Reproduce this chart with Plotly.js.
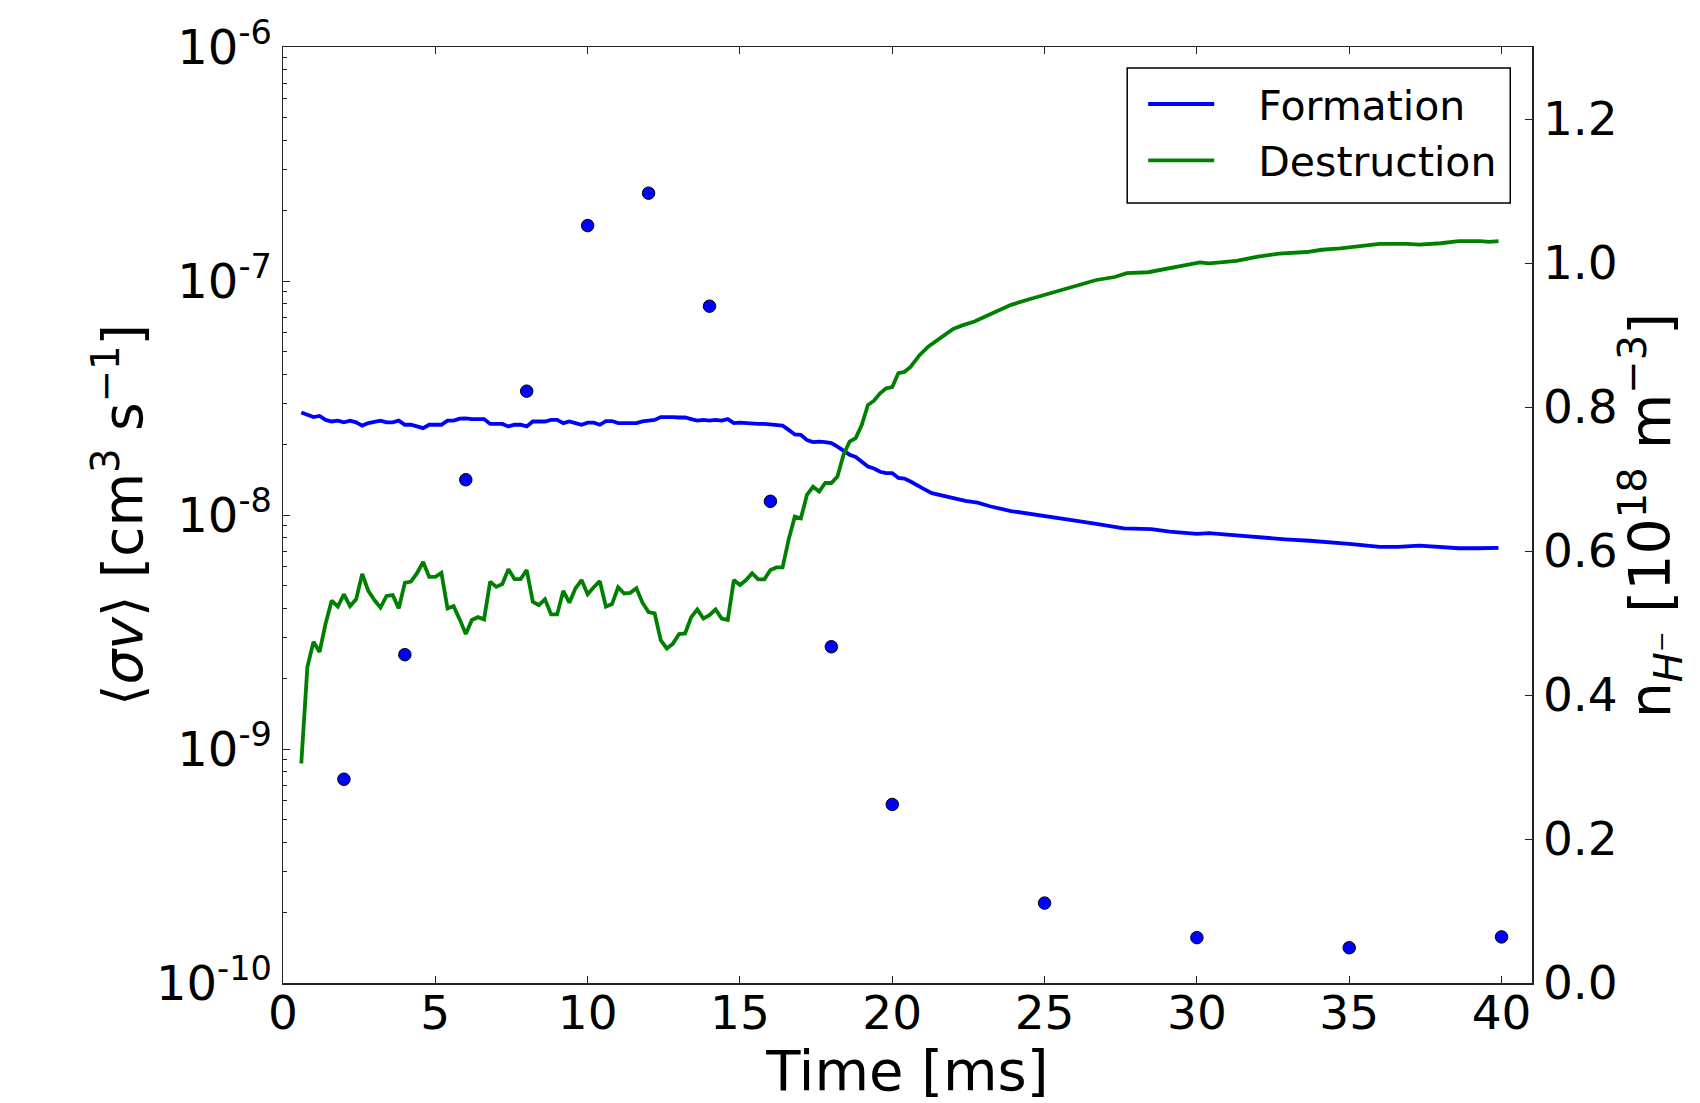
<!DOCTYPE html>
<html>
<head>
<meta charset="utf-8">
<script src="https://cdn.plot.ly/plotly-3.0.1.min.js"></script>
<style>html,body{margin:0;padding:0;background:#fff;}#chart{width:1700px;height:1103px;}</style>
</head>
<body>
<div id="chart"></div>
<script>
// Formation rate <σv> [cm^3 s^-1] vs time [ms]
const formationTime = [0.6,0.8,1.0,1.2,1.4,1.6,1.8,2.0,2.2,2.4,2.6,2.8,3.0,3.2,3.4,3.6,3.8,4.0,4.2,4.4,4.6,4.8,5.0,5.2,5.4,5.6,5.8,6.0,6.2,6.4,6.6,6.8,7.0,7.2,7.4,7.6,7.8,8.0,8.2,8.4,8.6,8.8,9.0,9.2,9.4,9.6,9.8,10.0,10.2,10.4,10.6,10.8,11.0,11.2,11.4,11.6,11.8,12.0,12.2,12.4,12.6,12.8,13.0,13.2,13.4,13.6,13.8,14.0,14.2,14.4,14.6,14.8,15.0,15.2,15.4,15.6,15.8,16.0,16.2,16.4,16.6,16.8,17.0,17.2,17.4,17.6,17.8,18.0,18.2,18.4,18.6,18.8,19.0,19.2,19.4,19.6,19.8,20.0,20.2,20.4,20.6,20.8,21.0,21.3,21.9,22.4,22.8,23.2,23.9,24.6,25.5,26.0,26.7,27.6,28.5,29.1,30.0,30.4,31.2,31.9,32.9,33.7,34.2,35.0,36.0,36.6,37.3,38.0,38.6,39.2,39.9];
const formationRate = [2.74e-8,2.68e-8,2.62e-8,2.65e-8,2.55e-8,2.51e-8,2.53e-8,2.49e-8,2.53e-8,2.49e-8,2.41e-8,2.47e-8,2.51e-8,2.53e-8,2.49e-8,2.49e-8,2.53e-8,2.43e-8,2.43e-8,2.39e-8,2.35e-8,2.43e-8,2.43e-8,2.43e-8,2.53e-8,2.53e-8,2.58e-8,2.59e-8,2.57e-8,2.57e-8,2.57e-8,2.45e-8,2.45e-8,2.45e-8,2.39e-8,2.43e-8,2.43e-8,2.39e-8,2.51e-8,2.51e-8,2.51e-8,2.55e-8,2.55e-8,2.47e-8,2.51e-8,2.47e-8,2.43e-8,2.48e-8,2.48e-8,2.43e-8,2.52e-8,2.52e-8,2.47e-8,2.47e-8,2.47e-8,2.47e-8,2.51e-8,2.53e-8,2.55e-8,2.62e-8,2.63e-8,2.62e-8,2.61e-8,2.61e-8,2.57e-8,2.53e-8,2.55e-8,2.53e-8,2.55e-8,2.53e-8,2.57e-8,2.47e-8,2.48e-8,2.47e-8,2.44e-8,2.45e-8,2.45e-8,2.44e-8,2.43e-8,2.41e-8,2.31e-8,2.21e-8,2.20e-8,2.09e-8,2.05e-8,2.06e-8,2.05e-8,2.03e-8,1.96e-8,1.88e-8,1.81e-8,1.77e-8,1.69e-8,1.61e-8,1.58e-8,1.53e-8,1.51e-8,1.51e-8,1.44e-8,1.43e-8,1.39e-8,1.34e-8,1.30e-8,1.24e-8,1.19e-8,1.15e-8,1.13e-8,1.09e-8,1.04e-8,1.01e-8,9.68e-9,9.46e-9,9.16e-9,8.77e-9,8.71e-9,8.49e-9,8.30e-9,8.36e-9,8.20e-9,8.04e-9,7.87e-9,7.76e-9,7.69e-9,7.52e-9,7.31e-9,7.31e-9,7.40e-9,7.31e-9,7.21e-9,7.21e-9,7.24e-9];

// Destruction rate <σv> [cm^3 s^-1] vs time [ms]
const destructionTime = [0.6,0.8,1.0,1.2,1.4,1.6,1.8,2.0,2.2,2.4,2.6,2.8,3.0,3.2,3.4,3.6,3.8,4.0,4.2,4.4,4.6,4.8,5.0,5.2,5.4,5.6,5.8,6.0,6.2,6.4,6.6,6.8,7.0,7.2,7.4,7.6,7.8,8.0,8.2,8.4,8.6,8.8,9.0,9.2,9.4,9.6,9.8,10.0,10.2,10.4,10.6,10.8,11.0,11.2,11.4,11.6,11.8,12.0,12.2,12.4,12.6,12.8,13.0,13.2,13.4,13.6,13.8,14.0,14.2,14.4,14.6,14.8,15.0,15.2,15.4,15.6,15.8,16.0,16.2,16.4,16.6,16.8,17.0,17.2,17.4,17.6,17.8,18.0,18.2,18.4,18.6,18.8,19.0,19.2,19.4,19.6,19.8,20.0,20.2,20.4,20.6,20.9,21.2,21.5,21.7,22.0,22.3,22.7,23.0,23.4,23.9,24.5,25.1,25.6,26.3,26.7,27.3,27.7,28.4,28.9,29.4,29.8,30.1,30.4,31.3,32.0,32.7,33.6,34.1,34.7,35.3,36.0,36.9,37.3,38.0,38.6,39.3,39.6,39.9];
const destructionRate = [8.67e-10,2.24e-9,2.87e-9,2.60e-9,3.44e-9,4.31e-9,4.06e-9,4.58e-9,4.08e-9,4.36e-9,5.60e-9,4.74e-9,4.33e-9,4.02e-9,4.51e-9,4.55e-9,3.99e-9,5.13e-9,5.19e-9,5.64e-9,6.30e-9,5.44e-9,5.44e-9,5.66e-9,3.99e-9,4.08e-9,3.58e-9,3.10e-9,3.56e-9,3.66e-9,3.58e-9,5.19e-9,4.93e-9,5.07e-9,5.87e-9,5.32e-9,5.32e-9,5.82e-9,4.26e-9,4.12e-9,4.36e-9,3.76e-9,3.76e-9,4.74e-9,4.22e-9,4.86e-9,5.27e-9,4.59e-9,4.91e-9,5.22e-9,4.06e-9,4.16e-9,4.91e-9,4.62e-9,4.65e-9,4.86e-9,4.22e-9,3.85e-9,3.80e-9,2.92e-9,2.69e-9,2.82e-9,3.10e-9,3.12e-9,3.66e-9,3.95e-9,3.61e-9,3.73e-9,3.95e-9,3.61e-9,3.56e-9,5.27e-9,5.02e-9,5.27e-9,5.64e-9,5.31e-9,5.31e-9,5.82e-9,5.97e-9,5.97e-9,7.87e-9,9.84e-9,9.68e-9,1.22e-8,1.32e-8,1.26e-8,1.37e-8,1.37e-8,1.46e-8,1.81e-8,2.06e-8,2.13e-8,2.43e-8,2.95e-8,3.08e-8,3.31e-8,3.48e-8,3.52e-8,4.04e-8,4.09e-8,4.29e-8,4.83e-8,5.27e-8,5.62e-8,5.86e-8,6.24e-8,6.46e-8,6.71e-8,7.00e-8,7.40e-8,7.91e-8,8.36e-8,8.81e-8,9.23e-8,9.79e-8,1.01e-7,1.04e-7,1.08e-7,1.09e-7,1.12e-7,1.15e-7,1.18e-7,1.20e-7,1.19e-7,1.22e-7,1.27e-7,1.31e-7,1.33e-7,1.36e-7,1.38e-7,1.41e-7,1.44e-7,1.44e-7,1.43e-7,1.45e-7,1.48e-7,1.48e-7,1.47e-7,1.48e-7];

// H- density [10^18 m^-3] (right axis) vs time [ms]
const densityTime = [2,4,6,8,10,12,14,16,18,20,25,30,35,40];
const densityValue = [0.283,0.456,0.699,0.822,1.052,1.097,0.940,0.669,0.467,0.248,0.111,0.063,0.049,0.064];

// Axis ticks and titles
const leftTickVals = [1e-10,1e-9,1e-8,1e-7,1e-6];
const leftTickText = ['10<sup>-10</sup>','10<sup>-9</sup>','10<sup>-8</sup>','10<sup>-7</sup>','10<sup>-6</sup>'];
const seriesNames = ['Formation','Destruction'];
const xTitle = 'Time [ms]';
const leftTitle = '⟨<i>σv</i>⟩ [cm<sup>3</sup> s<sup>−1</sup>]';
const rightTitle = 'n<sub><i>H</i>⁻</sub> [10<sup>18</sup> m<sup>−3</sup>]';

// log minor tick positions (2..9 x 10^n)
const minorVals = [];
for (let e = -10; e < -6; e++) for (let k = 2; k <= 9; k++) minorVals.push(k * Math.pow(10, e));

const FONT = '"DejaVu Sans", sans-serif';
const AXIS_COLOR = '#222';
const PAD = '\u00A0\u00A0\u00A0';

const traces = [
  {x: formationTime, y: formationRate, type: 'scatter', mode: 'lines', name: PAD + seriesNames[0],
   line: {color: '#0000ff', width: 3.8}, xaxis: 'x', yaxis: 'y'},
  {x: destructionTime, y: destructionRate, type: 'scatter', mode: 'lines', name: PAD + seriesNames[1],
   line: {color: '#008000', width: 3.8}, xaxis: 'x', yaxis: 'y'},
  {x: densityTime, y: densityValue, type: 'scatter', mode: 'markers', showlegend: false,
   marker: {color: '#0000ff', size: 12.5, line: {color: '#000', width: 1}}, xaxis: 'x', yaxis: 'y2'}
];

const layout = {
  width: 1700, height: 1103,
  margin: {l: 283, r: 168, t: 47, b: 120, pad: 0},
  paper_bgcolor: '#fff', plot_bgcolor: '#fff',
  font: {family: FONT, color: '#000', size: 47},
  showlegend: true,
  legend: {
    x: 0.6887, xanchor: 'left', y: 0.9745, yanchor: 'top',
    bgcolor: 'rgba(0,0,0,0)', borderwidth: 0,
    font: {family: FONT, size: 41, color: '#000'},
    itemwidth: 66, tracegroupgap: 0
  },
  shapes: [
    {type: 'rect', xref: 'paper', yref: 'paper', x0: 0.6759, x1: 0.9826, y0: 0.8333, y1: 0.9775,
     line: {color: '#000', width: 1.5}, fillcolor: '#fff', layer: 'above'}
  ],
  annotations: [
    {text: leftTitle, xref: 'paper', yref: 'paper', x: -0.1313, y: 0.5, xanchor: 'center', yanchor: 'middle',
     textangle: -90, showarrow: false, font: {family: FONT, size: 55, color: '#000'}},
    {text: rightTitle, xref: 'paper', yref: 'paper', x: 1.0947, y: 0.5, xanchor: 'center', yanchor: 'middle',
     textangle: -90, showarrow: false, font: {family: FONT, size: 57, color: '#000'}}
  ],
  xaxis: {
    range: [0, 41], dtick: 5, tick0: 0,
    ticks: 'inside', ticklen: 7, tickwidth: 1, tickcolor: AXIS_COLOR,
    showline: true, linecolor: AXIS_COLOR, linewidth: 1.5, mirror: 'ticks',
    showgrid: false, zeroline: false, ticklabelstandoff: -12,
    tickfont: {family: FONT, size: 47, color: '#000'},
    title: {text: xTitle, font: {family: FONT, size: 56, color: '#000'}, standoff: 4}
  },
  yaxis: {
    type: 'log', range: [-10, -6],
    tickvals: leftTickVals, ticktext: leftTickText,
    ticks: 'inside', ticklen: 7, tickwidth: 1, tickcolor: AXIS_COLOR,
    minor: {tickmode: 'array', tickvals: minorVals, ticks: 'inside', ticklen: 4, tickwidth: 1, tickcolor: AXIS_COLOR, showgrid: false},
    showline: true, linecolor: AXIS_COLOR, linewidth: 1.5,
    showgrid: false, zeroline: false,
    tickfont: {family: FONT, size: 48, color: '#000'}
  },
  yaxis2: {
    range: [0, 1.3], dtick: 0.2, tick0: 0, tickformat: '.1f',
    overlaying: 'y', side: 'right', anchor: 'x',
    ticks: 'inside', ticklen: 7, tickwidth: 1, tickcolor: AXIS_COLOR,
    showline: true, linecolor: AXIS_COLOR, linewidth: 1.5,
    showgrid: false, zeroline: false,
    tickfont: {family: FONT, size: 47, color: '#000'}
  }
};

Plotly.newPlot('chart', traces, layout, {staticPlot: true, displayModeBar: false});
</script>
</body>
</html>
